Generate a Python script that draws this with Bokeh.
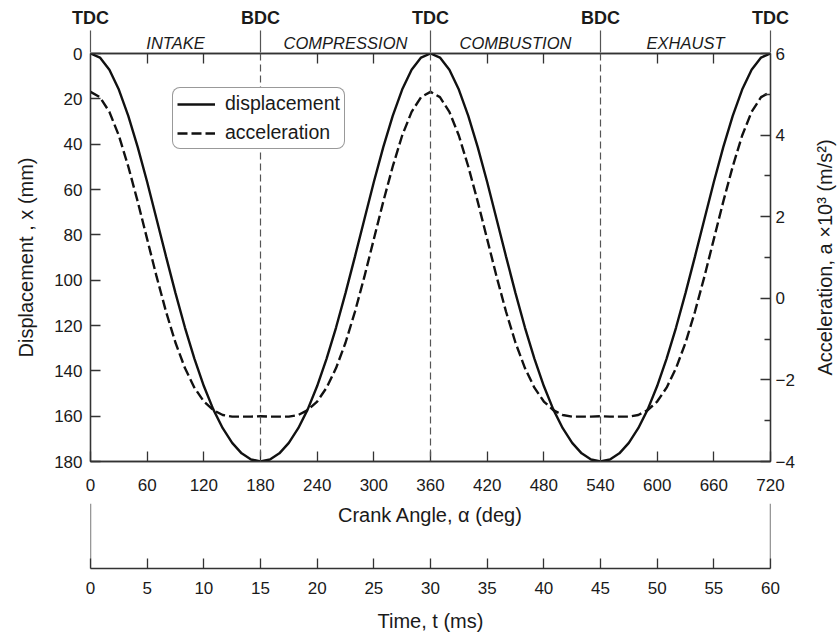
from bokeh.plotting import figure
from bokeh.models import (Range1d, LinearAxis, FixedTicker, Span, Label, Legend,
                          LegendItem)
from bokeh.layouts import column, row
from bokeh.embed import file_html
from bokeh.resources import INLINE

# ---------------- data ----------------
crank_deg = list(range(0, 721, 10))
displacement_mm = [
    0.0, 1.8, 7.2, 15.9, 27.5, 41.3, 56.7, 73.1, 89.6, 105.7, 120.9, 134.6, 146.7,
    157.0, 165.3, 171.8, 176.4, 179.1, 180.0, 179.1, 176.4, 171.8, 165.3, 157.0,
    146.7, 134.6, 120.9, 105.7, 89.6, 73.1, 56.7, 41.3, 27.5, 15.9, 7.2, 1.8, 0.0,
    1.8, 7.2, 15.9, 27.5, 41.3, 56.7, 73.1, 89.6, 105.7, 120.9, 134.6, 146.7,
    157.0, 165.3, 171.8, 176.4, 179.1, 180.0, 179.1, 176.4, 171.8, 165.3, 157.0,
    146.7, 134.6, 120.9, 105.7, 89.6, 73.1, 56.7, 41.3, 27.5, 15.9, 7.2, 1.8, 0.0]
acceleration_k = [
    5.06, 4.93, 4.57, 3.99, 3.23, 2.37, 1.45, 0.53, -0.33, -1.09, -1.71, -2.19, -2.53,
    -2.74, -2.86, -2.90, -2.90, -2.90, -2.89, -2.90, -2.90, -2.90, -2.86, -2.74,
    -2.53, -2.19, -1.71, -1.09, -0.33, 0.53, 1.45, 2.37, 3.23, 3.99, 4.57, 4.93, 5.06,
    4.93, 4.57, 3.99, 3.23, 2.37, 1.45, 0.53, -0.33, -1.09, -1.71, -2.19, -2.53,
    -2.74, -2.86, -2.90, -2.90, -2.90, -2.89, -2.90, -2.90, -2.90, -2.86, -2.74,
    -2.53, -2.19, -1.71, -1.09, -0.33, 0.53, 1.45, 2.37, 3.23, 3.99, 4.57, 4.93, 5.06]

crank_ticks = [0, 60, 120, 180, 240, 300, 360, 420, 480, 540, 600, 660, 720]
top_minor_ticks = [60, 120, 240, 300, 420, 480, 600, 660]
disp_ticks = [0, 20, 40, 60, 80, 100, 120, 140, 160, 180]
acc_ticks = [-4, -2, 0, 2, 4, 6]
acc_minor = [-3, -1, 1, 3, 5]
time_ticks = [0, 5, 10, 15, 20, 25, 30, 35, 40, 45, 50, 55, 60]
dc_angles = [0, 180, 360, 540, 720]
dc_labels = ["TDC", "BDC", "TDC", "BDC", "TDC"]
strokes = ["INTAKE", "COMPRESSION", "COMBUSTION", "EXHAUST"]
stroke_mid = [90, 270, 450, 630]

FONT = "Liberation Sans"
TXT = "#1a1a1a"
AX = "#333333"

# ---------------- main figure ----------------
p = figure(width=807, height=503, x_range=Range1d(0, 720), y_range=Range1d(180, 0),
           output_backend="svg", toolbar_location=None,
           min_border_left=90, min_border_right=37, min_border_top=53,
           min_border_bottom=42, background_fill_color="white",
           border_fill_color="white")
p.grid.visible = False
p.outline_line_color = AX
p.outline_line_width = 1.3
p.extra_y_ranges = {"acc": Range1d(-4, 6)}


def style_axis(ax, size="17px"):
    ax.axis_line_color = AX
    ax.axis_line_width = 1.3
    ax.major_tick_line_color = AX
    ax.major_tick_line_width = 1.3
    ax.minor_tick_line_color = AX
    ax.minor_tick_line_width = 1.3
    ax.major_label_text_font = FONT
    ax.major_label_text_font_size = size
    ax.major_label_text_color = TXT
    ax.axis_label_text_font = FONT
    ax.axis_label_text_font_size = "20px"
    ax.axis_label_text_font_style = "normal"
    ax.axis_label_text_color = TXT


xa = p.xaxis[0]
style_axis(xa)
xa.ticker = FixedTicker(ticks=crank_ticks)
xa.major_tick_in = 10
xa.major_tick_out = 0
xa.minor_tick_line_color = None
xa.major_label_standoff = 17

ya = p.yaxis[0]
style_axis(ya)
ya.ticker = FixedTicker(ticks=disp_ticks)
ya.major_tick_in = 10
ya.major_tick_out = 0
ya.minor_tick_line_color = None
ya.major_label_standoff = 8
ya.axis_label = "Displacement , x (mm)"
ya.axis_label_standoff = 14

ra = LinearAxis(y_range_name="acc",
                ticker=FixedTicker(ticks=acc_ticks, minor_ticks=acc_minor))
style_axis(ra)
ra.major_tick_in = 10
ra.major_tick_out = 0
ra.minor_tick_in = 6
ra.minor_tick_out = 0
ra.major_label_standoff = 5
ra.major_label_overrides = {-4: "\u22124", -2: "\u22122"}
p.add_layout(ra, "right")

# top axis nearest the frame: stroke names + inward minor ticks
sa = LinearAxis(ticker=FixedTicker(ticks=stroke_mid, minor_ticks=top_minor_ticks))
style_axis(sa, "16.5px")
sa.major_tick_line_color = None
sa.major_tick_in = 0
sa.major_tick_out = 0
sa.minor_tick_in = 10
sa.minor_tick_out = 0
sa.major_label_standoff = 2
sa.major_label_text_font_style = "italic"
sa.major_label_overrides = {m: s for m, s in zip(stroke_mid, strokes)}
p.add_layout(sa, "above")

# outer top axis: TDC / BDC marks reaching down to the frame
ta = LinearAxis(ticker=FixedTicker(ticks=dc_angles))
style_axis(ta, "18px")
ta.axis_line_color = None
ta.major_tick_in = 22
ta.major_tick_out = 0
ta.major_tick_line_color = "#555555"
ta.major_tick_line_width = 1.2
ta.minor_tick_line_color = None
ta.major_label_standoff = 3
ta.major_label_text_font_style = "bold"
ta.major_label_overrides = {a: t for a, t in zip(dc_angles, dc_labels)}
p.add_layout(ta, "above")

for a in dc_angles[1:-1]:
    p.add_layout(Span(location=a, dimension="height", line_color="#555555",
                      line_width=1.2, line_dash="7 4"))

r_disp = p.line(crank_deg, displacement_mm, line_color="#111111", line_width=2.4)
r_acc = p.line(crank_deg, acceleration_k, y_range_name="acc", line_color="#111111",
               line_width=2.4, line_dash="10 4")

legend = Legend(items=[LegendItem(label="displacement", renderers=[r_disp]),
                       LegendItem(label="acceleration", renderers=[r_acc])],
                location=(82, 312), orientation="vertical",
                label_text_font=FONT, label_text_font_size="19.5px",
                label_text_color=TXT, glyph_width=38, glyph_height=20,
                label_height=20, label_standoff=10, spacing=6, padding=4,
                margin=0, border_line_color=AX, border_line_width=1.2,
                border_radius=8, background_fill_alpha=1.0)
p.add_layout(legend)

# ---------------- right-hand title strip (reads bottom to top) ----------------
pt = figure(width=30, height=503, x_range=Range1d(0, 1), y_range=Range1d(-4, 6),
            output_backend="svg", toolbar_location=None, x_axis_location=None,
            min_border_left=28, min_border_right=0, min_border_top=53,
            min_border_bottom=42, background_fill_color="white",
            border_fill_color="white")
pt.grid.visible = False
pt.outline_line_color = None
ty = pt.yaxis[0]
style_axis(ty)
ty.ticker = FixedTicker(ticks=[])
ty.axis_line_color = None
ty.major_tick_line_color = None
ty.minor_tick_line_color = None
ty.major_label_standoff = 0
ty.axis_label = "Acceleration, a \u00d710\u00b3 (m/s\u00b2)"
ty.axis_label_standoff = 0

# ---------------- time figure ----------------
p2 = figure(width=837, height=131, x_range=Range1d(0, 60), y_range=Range1d(0, 1),
            output_backend="svg", toolbar_location=None, y_axis_location=None,
            min_border_left=90, min_border_right=67, min_border_top=0,
            min_border_bottom=64, background_fill_color="white",
            border_fill_color="white")
p2.grid.visible = False
p2.outline_line_color = None
tx = p2.xaxis[0]
style_axis(tx)
tx.ticker = FixedTicker(ticks=time_ticks)
tx.major_tick_in = 10
tx.major_tick_out = 0
tx.minor_tick_line_color = None
tx.major_label_standoff = 13
tx.axis_label = "Time, t (ms)"
tx.axis_label_standoff = 13

for edge in (time_ticks[0], time_ticks[-1]):
    p2.add_layout(Span(location=edge, dimension="height", line_color=AX,
                       line_width=1.3))

p2.add_layout(Label(x=(time_ticks[0] + time_ticks[-1]) / 2, y=0.82,
                    text="Crank Angle, \u03b1 (deg)", text_align="center",
                    text_baseline="middle", text_font=FONT, text_font_size="20px",
                    text_color=TXT))

layout = column(row(p, pt, spacing=0), p2, spacing=0)
open("out.html", "w").write(file_html(layout, INLINE))
